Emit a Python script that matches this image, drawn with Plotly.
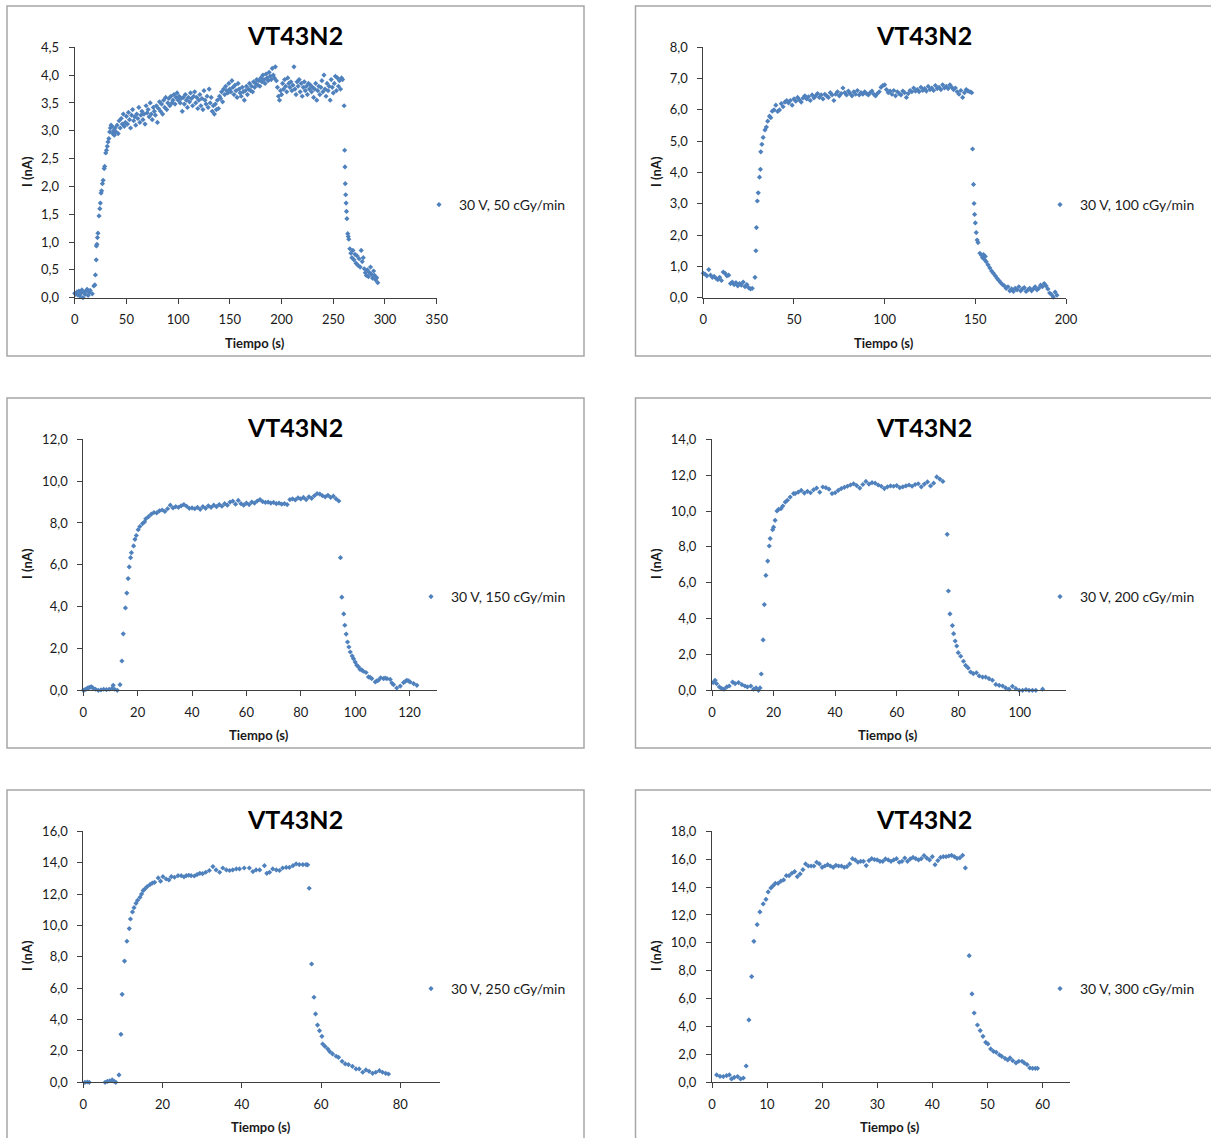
import plotly.graph_objects as go

W, H = 1211, 1138

# ---------------- data ----------------
titles = ["VT43N2"] * 6
series_names = ["30 V, 50 cGy/min", "30 V, 100 cGy/min", "30 V, 150 cGy/min",
                "30 V, 200 cGy/min", "30 V, 250 cGy/min", "30 V, 300 cGy/min"]

t1 = [0, 1, 2, 3, 4, 5, 6, 7, 8, 9, 10, 11, 12, 13, 14, 15, 16, 17,
      18.5, 19.5, 20, 20.8, 21, 21.5, 22, 22.5, 23.5, 24.3, 24.8, 25.5, 26, 26.8, 27.5, 28.5, 29, 30,
      30.7, 31.5, 32.2, 33, 33.8, 34.5, 35.2, 36, 36.8, 37.5, 38.3, 39, 40,
      41, 42, 43, 44, 45, 46, 47, 48, 49, 50,
      51, 52, 53, 54, 55, 56, 57, 58, 59, 60,
      61, 62, 63, 64, 65, 66, 67, 68, 69, 70,
      71, 72, 73, 74, 75, 76, 77, 78, 79, 80,
      81, 82, 83, 84, 85, 86, 87, 88, 89, 90,
      91, 92, 93, 94, 95, 96, 97, 98, 99, 100,
      101, 102, 103, 104, 105, 106, 107, 108, 109, 110,
      111, 112, 113, 114, 115, 116, 117, 118, 119, 120,
      121, 122, 123, 124, 125, 126, 127, 128, 129, 130,
      131, 132, 133, 134, 135, 136, 137, 138, 139, 140,
      141, 142, 143, 144, 145, 146, 147, 148, 149, 150,
      151, 152, 153, 154, 155, 156, 157, 158, 159, 160,
      161, 162, 163, 164, 165, 166, 167, 168, 169, 170,
      171, 172, 173, 174, 175, 176, 177, 178, 179, 180,
      181, 182, 183, 184, 185, 186, 187, 188, 189, 190,
      191, 192, 193, 194, 195, 196, 197, 198, 199, 200,
      201, 202, 203, 204, 205, 206, 207, 208, 209, 210,
      211, 212, 213, 214, 215, 216, 217, 218, 219, 220,
      221, 222, 223, 224, 225, 226, 227, 228, 229, 230,
      231, 232, 233, 234, 235, 236, 237, 238, 239, 240,
      241, 242, 243, 244, 245, 246, 247, 248, 249, 250,
      251, 252, 253, 254, 255, 256, 257, 258, 259,
      260.5, 261, 261.3, 261.6, 262, 262.4, 262.8, 263.2, 264, 264.5, 265, 266,
      267, 268, 269, 270, 271, 272, 273, 274, 275, 276, 277, 278, 279, 280,
      281, 282, 283, 284, 285, 286, 287, 288, 289, 290, 291, 292, 293]
i1 = [0.08, 0.06, 0.10, 0.05, 0.12, 0.03, 0.08, 0.14, 0.00, 0.10, 0.06, 0.12, 0.15, 0.04, 0.09, 0.13, -0.01, 0.07,
      0.21, 0.23, 0.41, 0.68, 0.93, 0.96, 1.08, 1.16, 1.47, 1.60, 1.70, 1.88, 1.92, 2.05, 2.11, 2.32, 2.36, 2.60,
      2.65, 2.72, 2.80, 2.86, 2.98, 3.05, 3.10, 3.08, 2.95, 3.00, 2.92, 3.05, 2.98,
      3.10, 2.95, 3.18, 3.05, 3.22, 3.12, 3.30, 3.08, 3.15, 3.26,
      3.12, 3.33, 3.20, 3.05, 3.28, 3.38, 3.18, 3.25, 3.10, 3.30,
      3.22, 3.42, 3.15, 3.28, 3.35, 3.20, 3.30, 3.12, 3.45, 3.32,
      3.38, 3.25, 3.50, 3.30, 3.20, 3.42, 3.35, 3.28, 3.45, 3.15,
      3.40, 3.52, 3.35, 3.48, 3.30, 3.55, 3.42, 3.60, 3.38, 3.50,
      3.58, 3.45, 3.62, 3.50, 3.55, 3.65, 3.48, 3.60, 3.68, 3.55,
      3.62, 3.50, 3.58, 3.35, 3.60, 3.48, 3.65, 3.55, 3.42, 3.60,
      3.52, 3.68, 3.58, 3.45, 3.62, 3.70, 3.50, 3.60, 3.40, 3.55,
      3.65, 3.45, 3.58, 3.38, 3.72, 3.55, 3.48, 3.62, 3.42, 3.75,
      3.50, 3.60, 3.35, 3.45, 3.30, 3.48, 3.38, 3.55, 3.40, 3.62,
      3.58, 3.70, 3.52, 3.75, 3.65, 3.80, 3.72, 3.68, 3.85, 3.75,
      3.70, 3.90, 3.78, 3.65, 3.82, 3.72, 3.60, 3.85, 3.75, 3.68,
      3.62, 3.78, 3.70, 3.55, 3.72, 3.80, 3.65, 3.75, 3.85, 3.72,
      3.80, 3.70, 3.88, 3.78, 3.85, 3.92, 3.82, 3.90, 3.80, 3.95,
      3.88, 4.00, 3.92, 3.85, 4.02, 3.95, 3.90, 4.05, 3.98, 3.92,
      4.12, 4.00, 3.95, 4.15, 3.90, 3.78, 3.62, 3.55, 3.72, 3.65,
      3.85, 3.75, 3.92, 3.80, 3.70, 3.95, 3.85, 3.78, 3.88, 3.72,
      3.82, 4.15, 3.75, 3.65, 3.88, 3.80, 3.92, 3.70, 3.85, 3.62,
      3.78, 3.88, 3.72, 3.80, 3.65, 3.85, 3.75, 3.82, 3.70, 3.78,
      3.60, 3.75, 3.85, 3.55, 3.72, 3.80, 3.65, 3.78, 3.90, 3.70,
      4.00, 3.75, 3.62, 3.85, 3.72, 3.80, 3.55, 3.92, 3.78, 3.68,
      3.85, 3.98, 3.72, 3.95, 3.80, 3.90, 3.75, 3.95, 3.92,
      3.45, 2.65, 2.35, 2.05, 1.85, 1.70, 1.55, 1.42, 1.15, 1.10, 1.05, 0.88,
      0.80, 0.72, 0.85, 0.68, 0.78, 0.62, 0.75, 0.58, 0.70, 0.55, 0.85, 0.65, 0.72, 0.52,
      0.45, 0.40, 0.50, 0.38, 0.45, 0.55, 0.42, 0.35, 0.48, 0.40, 0.32, 0.36, 0.27]

t2 = [0, 1, 2, 3, 4, 5, 6, 7, 8, 9, 10, 11, 12, 13, 14, 15, 16, 17, 18, 19,
      20, 21, 22, 23, 24, 25, 26, 27,
      28.5, 29, 29.3, 29.8, 30.3, 31, 31.5, 31.7, 32.3, 33, 34, 34.8, 35.5, 36.5, 37.2, 38,
      39, 40, 41, 42, 43, 44, 45, 46, 47,
      48, 49, 50, 51, 52, 53, 54, 55, 56, 57,
      58, 59, 60, 61, 62, 63, 64, 65, 66, 67,
      68, 69, 70, 71, 72, 73, 74, 75, 76, 77,
      78, 79, 80, 81, 82, 83, 84, 85, 86, 87,
      88, 89, 90, 91, 92, 93, 94, 95, 96, 97,
      98, 99, 100, 101, 102, 103, 104, 105, 106, 107,
      108, 109, 110, 111, 112, 113, 114, 115, 116, 117,
      118, 119, 120, 121, 122, 123, 124, 125, 126, 127,
      128, 129, 130, 131, 132, 133, 134, 135, 136, 137,
      138, 139, 140, 141, 142, 143, 144, 145, 146, 147, 148,
      148.5, 149, 149.3, 149.6, 150, 150.5, 151, 151.5, 152.5, 153.5, 154, 154.5, 155, 155.5, 156,
      157, 158, 159, 160, 161, 162, 163, 164, 165, 166, 167, 168, 169, 170,
      171, 172, 173, 174, 175, 176, 177, 178, 179, 180, 181, 182, 183, 184, 185,
      186, 187, 188, 189, 190, 191, 192, 193, 194, 195]
i2 = [0.78, 0.75, 0.70, 0.90, 0.72, 0.65, 0.68, 0.62, 0.58, 0.65, 0.55, 0.82, 0.78, 0.70, 0.72, 0.45, 0.50, 0.42, 0.48, 0.38,
      0.45, 0.40, 0.50, 0.35, 0.42, 0.32, 0.28, 0.30,
      0.65, 1.50, 2.24, 3.09, 3.35, 3.85, 4.10, 4.66, 4.90, 5.12, 5.36, 5.45, 5.64, 5.80, 5.75, 5.96,
      6.00, 6.15, 5.95, 6.00, 6.20, 6.10, 6.25, 6.30, 6.22,
      6.30, 6.15, 6.35, 6.28, 6.40, 6.32, 6.25, 6.38, 6.45, 6.35,
      6.42, 6.30, 6.48, 6.38, 6.45, 6.52, 6.40, 6.48, 6.35, 6.50,
      6.45, 6.40, 6.55, 6.48, 6.30, 6.50, 6.58, 6.45, 6.52, 6.70,
      6.55, 6.48, 6.60, 6.52, 6.45, 6.58, 6.50, 6.62, 6.48, 6.55,
      6.50, 6.58, 6.52, 6.48, 6.55, 6.60, 6.50, 6.45, 6.52, 6.58,
      6.72, 6.78, 6.80, 6.65, 6.55, 6.60, 6.50, 6.62, 6.45, 6.58,
      6.52, 6.48, 6.60, 6.55, 6.40, 6.52, 6.62, 6.58, 6.70, 6.60,
      6.65, 6.58, 6.72, 6.62, 6.68, 6.60, 6.75, 6.65, 6.70, 6.62,
      6.78, 6.68, 6.72, 6.65, 6.80, 6.70, 6.75, 6.68, 6.80, 6.72,
      6.65, 6.70, 6.58, 6.50, 6.62, 6.40, 6.55, 6.65, 6.60, 6.58, 6.55,
      4.75, 3.62, 3.01, 2.66, 2.39, 2.08, 1.84, 1.76, 1.42, 1.35, 1.28, 1.38, 1.22, 1.32, 1.15,
      1.05, 0.95, 0.85, 0.78, 0.70, 0.62, 0.55, 0.48, 0.42, 0.38, 0.30, 0.35, 0.22, 0.28,
      0.20, 0.30, 0.25, 0.35, 0.22, 0.28, 0.32, 0.20, 0.25, 0.30, 0.22, 0.28, 0.35, 0.25, 0.30,
      0.40, 0.35, 0.45, 0.38, 0.28, 0.15, 0.10, 0.02, 0.18, 0.08]

t3 = [0, 0.5, 1, 1.5, 2, 2.5, 3, 3.5, 4.5, 5.5, 6.5, 7.5, 8.5, 9.5, 10.5, 11, 11.5, 12.5,
      13.5, 14.2, 14.7, 15.5, 16, 16.5, 16.9, 17.4, 17.7, 18.5, 19, 19.5, 20.2, 20.8, 21.8, 22.5, 23, 24,
      25, 26, 27, 28, 29, 30, 31, 32, 33, 34,
      35, 36, 37, 38, 39, 40, 41, 42, 43, 44,
      45, 46, 47, 48, 49, 50, 51, 52, 53, 54,
      55, 56, 57, 58, 59, 60, 61, 62, 63, 64,
      65, 66, 67, 68, 69, 70, 71, 72, 73, 74,
      75, 76, 77, 78, 79, 80, 81, 82, 83, 84,
      85, 86, 87, 88, 89, 90, 91, 92, 93, 94,
      94.6, 95.1, 95.8, 96.2, 96.7, 97.2, 97.7, 98.2, 98.9, 99.4, 100, 100.6, 101.2, 101.8,
      102.4, 103, 104, 104.9, 105.5, 106.1, 107.4, 108, 108.6, 109.4, 110.4, 111, 111.7,
      112.9, 113.5, 114.1, 115.3, 116.6, 117.8, 118.4, 119, 119.6, 120.2, 121.5, 122.7]
i3 = [0.00, 0.02, 0.05, 0.10, 0.12, 0.15, 0.16, 0.12, 0.05, 0.00, 0.02, 0.05, 0.03, 0.05, 0.08, 0.24, 0.05, 0.00,
      0.27, 1.40, 2.70, 3.94, 4.65, 5.34, 5.90, 6.34, 6.58, 6.90, 7.22, 7.40, 7.68, 7.83, 7.97, 8.05, 8.20, 8.30,
      8.42, 8.50, 8.48, 8.58, 8.62, 8.55, 8.68, 8.85, 8.72, 8.78,
      8.75, 8.82, 8.88, 8.80, 8.70, 8.72, 8.68, 8.75, 8.65, 8.78,
      8.70, 8.82, 8.75, 8.85, 8.78, 8.88, 8.80, 8.92, 8.85, 9.00,
      9.04, 8.90, 9.08, 8.92, 8.85, 8.95, 8.88, 9.00, 8.95, 9.05,
      9.12, 9.02, 8.98, 9.00, 8.95, 8.98, 8.92, 8.95, 8.90, 8.92,
      8.88, 9.12, 9.15, 9.10, 9.20, 9.15, 9.22, 9.12, 9.25, 9.18,
      9.30, 9.40, 9.38, 9.30, 9.25, 9.32, 9.22, 9.28, 9.15, 9.05,
      6.34, 4.45, 3.65, 3.11, 2.69, 2.31, 2.07, 1.83, 1.64, 1.51, 1.35, 1.20, 1.12, 1.00,
      0.98, 0.91, 0.85, 0.64, 0.62, 0.56, 0.40, 0.45, 0.48, 0.60, 0.56, 0.58, 0.56,
      0.52, 0.35, 0.27, 0.11, 0.20, 0.37, 0.42, 0.48, 0.45, 0.40, 0.32, 0.24]

t4 = [0.4, 1, 1.5, 2.4, 3.2, 3.9, 4.8, 5.6, 6.7, 7.5, 8.6, 9.7, 10.7, 11.5, 12.6, 13.5, 14.3, 15.1, 15.6,
      16, 16.6, 17, 17.5, 18.1, 18.6, 18.9, 19.7, 20, 20.5, 21.1, 21.6, 22.4, 23, 23.8, 24.5, 25.4, 26.5,
      27, 28, 29, 30, 31, 32, 33, 34, 35, 36,
      37, 38, 39, 40, 41, 42, 43, 44, 45, 46,
      47, 48, 49, 50, 51, 52, 53, 54, 55, 56,
      57, 58, 59, 60, 61, 62, 63, 64, 65, 66,
      67, 68, 69, 70, 71, 72, 73, 74, 75,
      76.4, 76.8, 77.3, 78.1, 78.5, 79, 79.5, 80, 80.8, 81.7, 82.4, 83.2, 84, 84.9, 85.9, 86.8,
      87.9, 88.9, 90, 91.1, 92.2, 93.3, 94.4, 95.4, 96.5, 97.6, 98.7, 99.8, 100.9, 102, 103,
      104.1, 105.2, 106.3, 107.4]
i4 = [0.43, 0.56, 0.37, 0.19, 0.09, 0.06, 0.19, 0.24, 0.46, 0.37, 0.43, 0.32, 0.24, 0.19, 0.24, 0.06, 0.13, 0.00, 0.13,
      0.91, 2.81, 4.78, 6.41, 7.21, 8.05, 8.46, 8.96, 9.10, 9.48, 10.00, 10.09, 10.13, 10.28, 10.50, 10.60, 10.78, 10.97,
      10.97, 11.05, 11.15, 11.00, 11.10, 11.02, 11.18, 11.28, 11.05, 11.34,
      11.30, 11.22, 10.97, 11.02, 11.15, 11.25, 11.32, 11.38, 11.45, 11.52,
      11.42, 11.28, 11.48, 11.65, 11.50, 11.58, 11.55, 11.45, 11.38, 11.25,
      11.35, 11.40, 11.38, 11.42, 11.30, 11.35, 11.40, 11.45, 11.38, 11.48,
      11.52, 11.35, 11.50, 11.62, 11.40, 11.55, 11.90, 11.78, 11.65,
      8.70, 5.54, 4.26, 3.61, 3.16, 2.75, 2.47, 2.10, 1.90, 1.62, 1.39, 1.25, 1.02, 0.93, 0.98, 0.80,
      0.74, 0.74, 0.65, 0.56, 0.33, 0.28, 0.24, 0.13, 0.06, 0.22, 0.09, 0.00, 0.00, 0.04, 0.00,
      0.00, 0.00, -0.04, 0.06]

t5 = [0.4, 1.0, 1.5, 2.0, 2.5, 3.2, 3.8, 4.6, 5.0, 5.5, 6.1, 6.7, 7.3, 7.8, 8.2,
      9.0, 9.5, 9.8, 10.4, 11.0, 11.6, 11.9, 12.4, 12.8, 13.3, 13.7, 14.3, 14.7, 15.1, 15.5,
      16.1, 16.8, 17.4, 18.0, 18.9, 19.5, 20.1, 20.9, 21.6, 22.2, 23.0, 23.9, 24.7, 25.4, 26.0,
      26.6, 27.2, 28.0, 28.7, 29.4, 30.1, 30.9, 31.8, 32.7, 33.5, 34.4, 35.2, 36.1, 36.9, 37.7,
      38.6, 39.4, 40.6, 41.9, 42.8, 43.6, 44.5, 45.7, 46.3, 47.0, 47.8, 48.7, 49.5, 50.3, 51.2,
      52.0, 52.9, 53.7, 54.5, 55.4, 56.2, 56.6,
      57.0, 57.6, 58.2, 58.6, 59.1, 59.6, 60.2, 60.4, 61.0, 61.7, 62.2, 62.9, 63.8, 64.4, 65.3,
      66.1, 66.9, 67.9, 68.8, 69.6, 70.5, 71.3, 72.1, 73.0, 73.8, 74.7, 75.5, 76.3, 77.0]
i5 = [0.00, 0.02, 0.00, -0.05, -0.10, -0.08, -0.06, -0.10, -0.05, 0.00, 0.06, 0.10, 0.15, 0.06, 0.00,
      0.47, 3.06, 5.61, 7.73, 8.99, 9.80, 10.41, 10.86, 11.13, 11.41, 11.60, 11.79, 12.00, 12.22, 12.32,
      12.47, 12.60, 12.70, 12.75, 13.03, 12.82, 13.11, 12.96, 12.90, 13.11, 13.07, 13.17, 13.17, 13.10, 13.17,
      13.20, 13.17, 13.15, 13.24, 13.32, 13.30, 13.39, 13.50, 13.75, 13.54, 13.39, 13.66, 13.54, 13.50, 13.54,
      13.60, 13.60, 13.66, 13.66, 13.43, 13.54, 13.54, 13.81, 13.32, 13.39, 13.60, 13.54, 13.50, 13.66, 13.70,
      13.70, 13.81, 13.92, 13.88, 13.88, 13.88, 13.86,
      12.37, 7.54, 5.42, 4.36, 3.65, 3.29, 2.93, 2.44, 2.29, 2.12, 1.95, 1.81, 1.66, 1.59, 1.34,
      1.17, 1.13, 1.02, 0.85, 0.85, 0.64, 0.79, 0.70, 0.57, 0.64, 0.74, 0.64, 0.57, 0.53]

t6 = [0.85, 1.45, 2.05, 2.65, 3.15, 3.55, 4.05, 4.65, 5.2, 5.7,
      6.2, 6.7, 7.2, 7.6, 8.2, 8.7, 9.3, 9.8, 10.2, 10.7, 11.1,
      11.5, 12.0, 12.5, 13.0, 13.5, 14.0, 14.5, 15.0, 15.5, 16.0,
      16.5, 17.0, 17.5, 18.0, 18.5, 19.0, 19.5, 20.0, 20.5, 21.0,
      21.5, 22.0, 22.5, 23.0, 23.5, 24.0, 24.5, 25.0, 25.5, 26.0,
      26.5, 27.0, 27.5, 28.0, 28.5, 29.0, 29.5, 30.0, 30.5, 31.0,
      31.5, 32.0, 32.5, 33.0, 33.5, 34.0, 34.5, 35.0, 35.5, 36.0,
      36.5, 37.0, 37.5, 38.0, 38.5, 39.0, 39.5, 40.0, 40.5, 41.0,
      41.5, 42.0, 42.5, 43.0, 43.5, 44.0, 44.5, 45.0, 45.5,
      46.0, 46.7, 47.2, 47.6, 48.2, 48.7, 49.2, 49.7, 50.1, 50.6, 51.1, 51.6, 52.2, 52.6,
      53.2, 53.7, 54.1, 54.6, 55.2, 55.7, 56.3, 56.7, 57.2, 57.7, 58.2, 58.7, 59.1]
i6 = [0.53, 0.43, 0.41, 0.48, 0.53, 0.24, 0.36, 0.41, 0.24, 0.31,
      1.17, 4.47, 7.58, 10.11, 11.31, 12.22, 12.79, 13.12, 13.65, 13.94, 14.10,
      14.27, 14.27, 14.42, 14.51, 14.82, 14.82, 14.99, 15.11, 14.75, 14.94,
      15.25, 15.66, 15.51, 15.51, 15.51, 15.78, 15.66, 15.42, 15.51, 15.61,
      15.51, 15.42, 15.56, 15.51, 15.51, 15.42, 15.47, 15.66, 16.04, 15.95,
      15.78, 15.85, 15.85, 15.54, 15.90, 16.04, 15.97, 15.95, 15.85, 15.85,
      16.02, 15.95, 15.85, 15.95, 16.04, 15.78, 15.85, 16.08, 15.85, 16.02,
      16.13, 16.04, 15.95, 16.04, 16.26, 16.08, 15.95, 16.18, 15.61, 15.90,
      16.13, 16.18, 16.18, 16.23, 16.28, 16.18, 16.06, 16.10, 16.28,
      15.37, 9.08, 6.34, 4.97, 4.11, 3.71, 3.30, 2.87, 2.75, 2.39, 2.22, 2.15, 1.96, 1.86,
      1.72, 1.60, 1.75, 1.55, 1.39, 1.51, 1.51, 1.39, 1.27, 1.03, 1.00, 1.00, 1.00]

x_max = [350, 200, 130, 115, 90, 65]
x_step = [50, 50, 20, 20, 20, 10]
y_max = [4.5, 8, 12, 14, 16, 18]
y_step = [0.5, 1, 2, 2, 2, 2]

# ---------------- layout geometry (pixels) ----------------
areas = [(74.7, 436.7, 47.3, 297.7), (703.3, 1066, 47.3, 297.7),
         (83.3, 436.7, 439.3, 690.3), (712, 1066, 439.3, 690.3),
         (83.3, 440, 831.3, 1082.3), (712, 1070, 831.3, 1082.3)]
boxes = [(7, 584, 6, 356), (635.5, 1215, 6, 356),
         (7, 584, 398, 748), (635.5, 1215, 398, 748),
         (7, 584, 790, 1142), (635.5, 1215, 790, 1142)]
title_pos = [(295, 35), (924, 35), (295, 427), (924, 427), (295, 819), (924, 819)]
ytitle_pos = [(27, 172), (656, 172), (27, 564), (656, 564), (27, 956), (656, 956)]
xtitle_pos = [(255, 343), (884, 343), (259, 735), (888, 735), (261, 1127), (890, 1127)]
legend_pos = [(459, 205), (1080, 205), (451, 597), (1080, 597), (451, 989), (1080, 989)]

BLUE = "#4F81BD"
FONT = "Lato, 'Open Sans', sans-serif"
TXT = "#1a1a1a"

fig = go.Figure()
data = [(t1, i1), (t2, i2), (t3, i3), (t4, i4), (t5, i5), (t6, i6)]
layout = {}
annotations = []
shapes = []

for k in range(6):
    n = "" if k == 0 else str(k + 1)
    lg = "legend" if k == 0 else "legend" + str(k + 1)
    tx, iy = data[k]
    fig.add_trace(go.Scatter(
        x=tx, y=iy, mode="markers", name=series_names[k],
        xaxis="x" + n, yaxis="y" + n, legend=lg, cliponaxis=False,
        marker=dict(symbol="diamond", size=4, color=BLUE, line=dict(width=0)),
        showlegend=True, hoverinfo="x+y"))
    l, r, t, b = areas[k]
    layout["xaxis" + n] = dict(
        domain=[l / W, r / W], anchor="y" + n, range=[0, x_max[k]], dtick=x_step[k], tick0=0,
        showline=True, linecolor="#404040", linewidth=1, ticks="outside", ticklen=5,
        tickcolor="#404040", showgrid=False, zeroline=False, automargin=False,
        ticklabelstandoff=5,
        tickfont=dict(family=FONT, size=13, color=TXT))
    layout["yaxis" + n] = dict(
        domain=[1 - b / H, 1 - t / H], anchor="x" + n, range=[0, y_max[k]], dtick=y_step[k], tick0=0,
        tickformat=".1f", showline=True, linecolor="#404040", linewidth=1, ticks="outside",
        ticklen=5, tickcolor="#404040", showgrid=False, zeroline=False, automargin=False,
        ticklabelstandoff=7,
        tickfont=dict(family=FONT, size=13, color=TXT))
    lx, ly = legend_pos[k]
    layout[lg] = dict(
        x=(lx - 40) / W, y=1 - ly / H, xanchor="left", yanchor="middle",
        bgcolor="rgba(0,0,0,0)", borderwidth=0,
        font=dict(family=FONT, size=14, color=TXT), itemclick=False)
    bx0, bx1, by0, by1 = boxes[k]
    shapes.append(dict(type="rect", xref="paper", yref="paper",
                       x0=bx0 / W, x1=bx1 / W, y0=1 - by1 / H, y1=1 - by0 / H,
                       line=dict(color="#A6A6A6", width=1.5), fillcolor="rgba(0,0,0,0)", layer="below"))
    cx, cy = title_pos[k]
    annotations.append(dict(text="<b>" + titles[k] + "</b>", x=cx / W, y=1 - cy / H, xref="paper", yref="paper",
                            showarrow=False, xanchor="center", yanchor="middle",
                            font=dict(family=FONT, size=25, color="#000000")))
    ax_, ay_ = ytitle_pos[k]
    annotations.append(dict(text="<b>I (nA)</b>", x=ax_ / W, y=1 - ay_ / H, xref="paper", yref="paper",
                            showarrow=False, textangle=-90, xanchor="center", yanchor="middle",
                            font=dict(family=FONT, size=13, color=TXT)))
    bx_, by_ = xtitle_pos[k]
    annotations.append(dict(text="<b>Tiempo (s)</b>", x=bx_ / W, y=1 - by_ / H, xref="paper", yref="paper",
                            showarrow=False, xanchor="center", yanchor="middle",
                            font=dict(family=FONT, size=13, color=TXT)))

fig.update_layout(
    width=W, height=H, margin=dict(l=0, r=0, t=0, b=0, pad=0, autoexpand=False),
    paper_bgcolor="white", plot_bgcolor="white",
    separators=",.", showlegend=True,
    annotations=annotations, shapes=shapes, **layout)

fig.write_html("out.html",
               config={"displayModeBar": False},
               post_script="document.body.style.margin='0';document.body.style.overflow='hidden';"
                           "document.documentElement.style.overflow='hidden';")
